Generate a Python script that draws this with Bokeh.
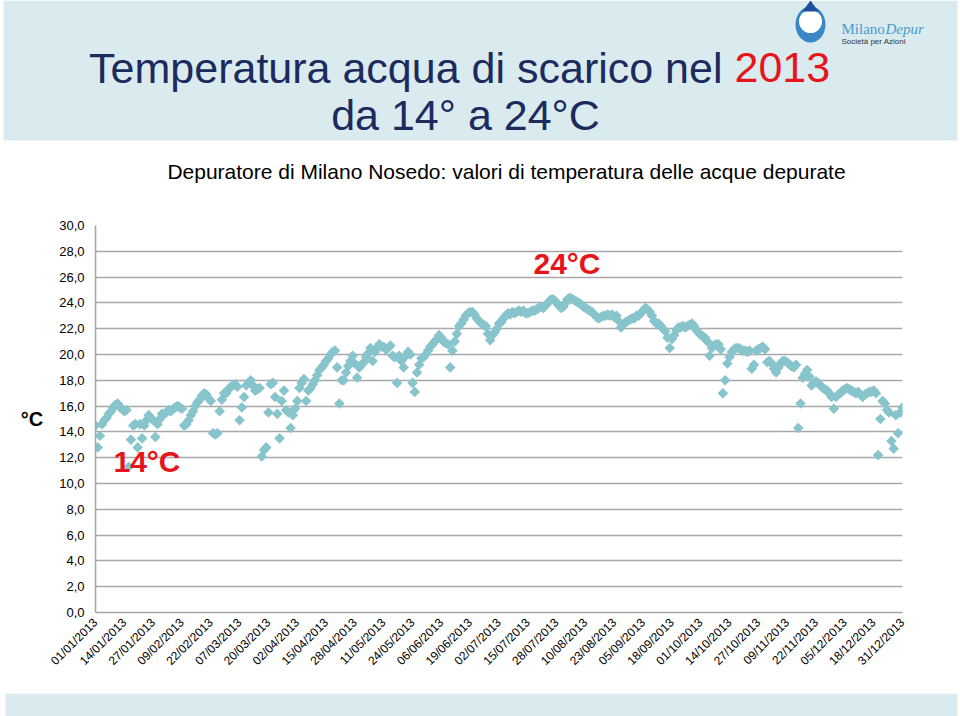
from math import pi
import pandas as pd
from bokeh.plotting import figure
from bokeh.layouts import column, row
from bokeh.models import (Range1d, FixedTicker, Label, BoxAnnotation, ColumnDataSource)
from bokeh.embed import file_html
from bokeh.resources import INLINE

# ---- data: daily discharge water temperature (deg C) ----
jan = [14.5, 12.8, 13.7, 14.6, 14.9, 15.1, 15.4, 15.6, 15.9, 16.1,
       16.2, 15.9, 15.8, 15.6, 15.7, 11.3, 13.4, 14.5, 14.6, 12.8,
       14.6, 13.5, 14.5, 14.9, 15.3, 15.1, 14.9, 13.6, 14.6, 15.0, 15.4]
feb = [15.4, 15.5, 15.7, 15.6, 15.8, 15.9, 16.0, 15.9, 15.8, 14.5,
       14.6, 14.9, 15.3, 15.6, 16.0, 16.3, 16.5, 16.8, 17.0, 16.9,
       16.6, 16.4, 13.9, 13.8, 13.9, 15.6, 16.5, 17.0]
mar = [17.0, 17.3, 17.5, 17.6, 17.7, 17.5, 14.9, 15.9, 16.7, 17.6,
       17.8, 18.0, 17.6, 17.2, 17.3, 17.4, 12.1, 12.6, 12.8, 15.5,
       17.7, 17.8, 16.7, 15.4, 13.5, 16.4, 17.2, 15.7, 15.5, 14.3, 15.3]
apr = [15.8, 16.4, 17.4, 17.8, 18.1, 16.4, 17.2, 17.4, 17.7, 18.0,
       18.4, 18.8, 19.0, 19.2, 19.5, 19.7, 20.0, 20.2, 20.3, 19.0,
       16.2, 18.0, 18.0, 18.6, 19.1, 19.5, 19.9, 19.3, 18.2, 19.0]
may = [19.2, 19.4, 19.8, 20.1, 20.5, 19.5, 20.2, 20.5, 20.8, 20.6,
       20.6, 20.4, 20.5, 20.7, 19.9, 19.8, 17.8, 19.9, 19.5, 19.0,
       19.9, 20.2, 20.0, 17.8, 17.1, 18.6, 19.2, 19.7, 19.8, 20.0, 20.3]
jun = [20.6, 20.8, 21.0, 21.2, 21.5, 21.3, 21.0, 20.9, 20.8, 19.0,
       20.3, 21.0, 21.6, 22.2, 22.4, 22.7, 23.0, 23.2, 23.3, 23.3,
       23.1, 22.8, 22.6, 22.4, 22.3, 22.2, 21.6, 21.1, 21.5, 21.7]
jul = [22.0, 22.4, 22.5, 22.8, 23.0, 23.2, 23.1, 23.3, 23.2, 23.3,
       23.4, 23.3, 23.4, 23.2, 23.2, 23.3, 23.4, 23.4, 23.5, 23.6,
       23.7, 23.6, 23.8, 24.0, 24.2, 24.3, 24.2, 24.0, 23.8, 23.6, 23.7]
aug = [24.0, 24.3, 24.4, 24.3, 24.2, 24.1, 24.0, 23.9, 23.7, 23.6,
       23.5, 23.4, 23.3, 23.1, 22.9, 22.8, 22.9, 23.0, 23.0, 23.1,
       23.0, 23.1, 22.9, 23.0, 22.6, 22.1, 22.3, 22.5, 22.6, 22.7, 22.8]
sep = [22.8, 23.0, 23.0, 23.2, 23.4, 23.6, 23.5, 23.3, 23.0, 22.6,
       22.4, 22.4, 22.2, 22.0, 21.8, 21.3, 20.5, 21.2, 21.5, 21.9,
       22.1, 22.1, 22.2, 22.1, 22.2, 22.3, 22.4, 22.2, 21.9, 21.7]
oct_ = [21.5, 21.4, 21.3, 21.0, 19.9, 20.5, 20.7, 20.8, 20.8, 20.4,
        17.0, 18.0, 19.3, 19.8, 20.2, 20.4, 20.5, 20.5, 20.4, 20.3,
        20.3, 20.2, 20.3, 18.9, 19.2, 20.3, 20.4, 20.5, 20.6, 20.4, 19.4]
nov = [19.5, 19.3, 18.9, 18.6, 19.0, 19.3, 19.5, 19.5, 19.4, 19.2,
       19.1, 19.0, 19.2, 14.3, 16.2, 18.2, 18.5, 18.8, 18.3, 17.6,
       17.8, 17.9, 17.8, 17.6, 17.4, 17.3, 17.2, 17.0, 16.7, 15.8]
dec = [16.7, 16.9, 17.0, 17.2, 17.3, 17.4, 17.3, 17.2, 17.1, 17.0,
       17.1, 16.9, 16.7, 16.9, 17.0, 17.1, 17.1, 17.2, 17.0, 12.2,
       15.0, 16.4, 16.2, 15.7, 15.5, 13.3, 12.7, 15.3, 13.9, 15.5, 15.9]

temps = jan + feb + mar + apr + may + jun + jul + aug + sep + oct_ + nov + dec
dates = pd.date_range("2013-01-01", periods=len(temps), freq="D")
date_labels = list(dates.strftime("%d/%m/%Y"))
days = list(range(len(temps)))

tick_days = list(range(0, len(temps), 13))
y_ticks = list(range(0, 31, 2))

FONT = "Liberation Sans"
NAVY = "#1c2a5e"
RED = "#e8141b"
BAND = "#d9ebef"
POINT = "#87c4cc"
GRID = "#a8a8a8"
W = 960


def bare(height, ytop):
    f = figure(width=W, height=height, x_range=Range1d(0, W), y_range=Range1d(ytop + height, ytop),
               output_backend="svg", toolbar_location=None,
               x_axis_type=None, y_axis_type=None,
               min_border=0, min_border_left=0, min_border_right=0,
               min_border_top=0, min_border_bottom=0)
    f.outline_line_color = None
    f.background_fill_color = "white"
    f.border_fill_color = "white"
    if "frame_align" in f.properties():
        f.frame_align = False
    return f


def lab(fig, x, y, text, size, color="black", align="left", style="normal",
        font=FONT, units="data"):
    fig.add_layout(Label(x=x, y=y, x_units=units, y_units=units, text=text,
                         text_font=font, text_font_size=size, text_color=color,
                         text_align=align, text_baseline="alphabetic",
                         text_font_style=style))


# ---------------- header (page y 0..200) ----------------
head = bare(200, 0)
head.add_layout(BoxAnnotation(left=3, right=957, top=0, bottom=140,
                              fill_color=BAND, fill_alpha=1, line_color=None,
                              level="underlay"))
# logo
head.ellipse(x=810, y=24, width=30, height=36, fill_color="#3b86c4", line_color=None)
head.ellipse(x=810, y=21, width=23, height=23, fill_color="white", line_color=None)
head.patch(x=[810, 802, 818], y=[0, 11, 11], fill_color="#1f4f9a", line_color=None)
lab(head, 841, 28, "Milano", "15px", "#4d9acd", font="Liberation Serif")
lab(head, 885, 28, "Depur", "15px", "#4d9acd", style="italic", font="Liberation Serif")
lab(head, 841, 41, "Società per Azioni", "8px", "#333333")

lab(head, 722, 67, "Temperatura acqua di scarico nel", "43px", NAVY, align="right")
lab(head, 734, 67, "2013", "43px", RED)
lab(head, 465, 114, "da 14° a 24°C", "43px", NAVY, align="center")
lab(head, 506, 171, "Depuratore di Milano Nosedo: valori di temperatura delle acque depurate",
    "21px", "black", align="center")

# ---------------- main chart (page y 200..693) ----------------
p = figure(width=W, height=493, x_range=Range1d(0, 364), y_range=Range1d(0, 30),
           output_backend="svg", toolbar_location=None,
           min_border_left=95, min_border_right=58,
           min_border_top=25, min_border_bottom=81)
p.outline_line_color = None
p.background_fill_color = "white"
p.border_fill_color = "white"
if "frame_align" in p.properties():
    p.frame_align = False

p.xgrid.visible = False
p.ygrid.grid_line_color = GRID
p.ygrid.grid_line_width = 1.6
p.yaxis.ticker = FixedTicker(ticks=y_ticks)
p.yaxis.major_label_overrides = {v: f"{v},0" for v in y_ticks}
p.yaxis.axis_line_color = GRID
p.yaxis.axis_line_width = 1.6
p.yaxis.major_tick_line_color = None
p.yaxis.minor_tick_line_color = None
p.yaxis.major_tick_out = 0
p.yaxis.major_label_standoff = 11
p.yaxis.major_label_text_font = FONT
p.yaxis.major_label_text_font_size = "13px"
p.yaxis.major_label_text_color = "black"
p.yaxis.axis_label = "°C"
p.yaxis.axis_label_text_font = FONT
p.yaxis.axis_label_text_font_size = "20px"
p.yaxis.axis_label_text_font_style = "bold"
p.yaxis.axis_label_text_color = "black"
p.yaxis.axis_label_standoff = 13
if "axis_label_orientation" in p.yaxis[0].properties():
    p.yaxis.axis_label_orientation = "horizontal"

p.xaxis.ticker = FixedTicker(ticks=tick_days)
p.xaxis.major_label_overrides = {d: date_labels[d] for d in tick_days}
p.xaxis.major_label_orientation = pi / 4
p.xaxis.axis_line_color = GRID
p.xaxis.axis_line_width = 1.6
p.xaxis.major_tick_line_color = None
p.xaxis.minor_tick_line_color = None
p.xaxis.major_tick_out = 0
p.xaxis.major_label_standoff = 8
p.xaxis.major_label_text_font = FONT
p.xaxis.major_label_text_font_size = "12px"
p.xaxis.major_label_text_color = "black"

src = ColumnDataSource(dict(day=days, temp=temps))
p.scatter("day", "temp", source=src, marker="square", angle=pi / 4, size=7.5,
          fill_color=POINT, line_color=None)

# annotations inside the frame (screen units from frame bottom-left)
lab(p, 438, 349, "24°C", "30px", RED, style="bold", units="screen")
lab(p, 18, 151, "14°C", "30px", RED, style="bold", units="screen")

# ---------------- footer band (page y 693..716) ----------------
foot = bare(23, 693)
foot.add_layout(BoxAnnotation(left=5, right=957, top=693, bottom=716,
                              fill_color=BAND, fill_alpha=1, line_color=None,
                              level="underlay"))

layout = column(row(head), p, row(foot), spacing=0)
open("out.html", "w").write(file_html(layout, INLINE))
